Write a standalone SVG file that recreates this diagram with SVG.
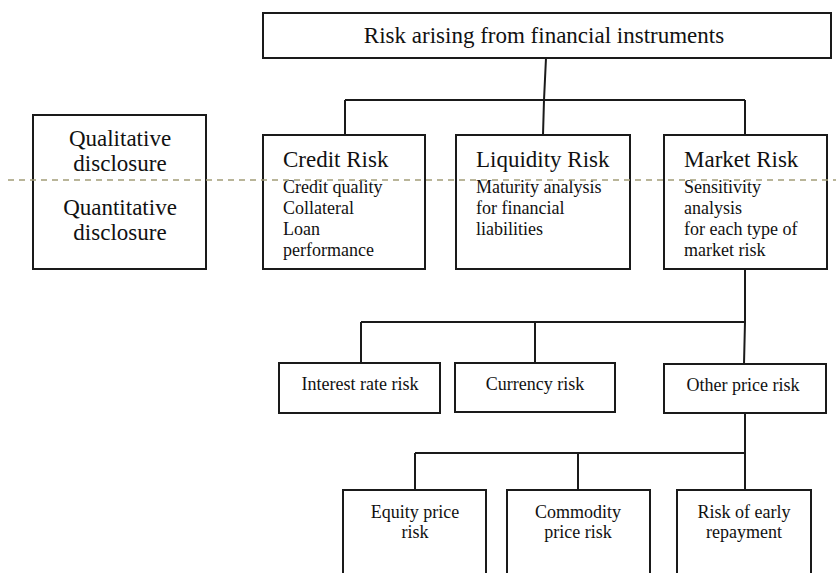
<svg xmlns="http://www.w3.org/2000/svg" width="836" height="573" viewBox="0 0 836 573">
<style>
.box{fill:#fff;stroke:#1a1a1a;stroke-width:2}
.ln{fill:none;stroke:#1a1a1a;stroke-width:2}
text{font-family:"Liberation Serif","Times New Roman",serif;fill:#111}
.big{font-size:23px}
.mid{font-size:18px}
.c{text-anchor:middle}
</style>
<rect width="836" height="573" fill="#fff"/>
<g id="connectors">
<path class="ln" d="M546 58 L544 100 M345 100 L745 100 M345 100 L345 135 M544 100 L543 135 M745 100 L745 135"/>
<path class="ln" d="M745 269 L745 322 M361 322 L745 322 M361 322 L361 363 M535 322 L535 363 M745 322 L744 364"/>
<path class="ln" d="M745 413 L745 453 M415 453 L745 453 M415 453 L415 490 M578 453 L578 490 M745 453 L745 490"/>
</g>
<g id="top"><rect class="box" x="263" y="13" width="568" height="45"/><text class="big c" x="544" y="43">Risk arising from financial instruments</text></g>
<g id="disclosure"><rect class="box" x="33" y="115" width="173" height="154"/>
<text class="big c" x="120" y="146">Qualitative</text><text class="big c" x="120" y="171">disclosure</text>
<text class="big c" x="120" y="215">Quantitative</text><text class="big c" x="120" y="240">disclosure</text></g>
<g id="credit"><rect class="box" x="263" y="135" width="162" height="134"/>
<text class="big" x="283" y="167">Credit Risk</text>
<text class="mid" x="283" y="193">Credit quality</text><text class="mid" x="283" y="214">Collateral</text><text class="mid" x="283" y="235">Loan</text><text class="mid" x="283" y="256">performance</text></g>
<g id="liquidity"><rect class="box" x="456" y="135" width="174" height="134"/>
<text class="big" x="476" y="167">Liquidity Risk</text>
<text class="mid" x="476" y="193">Maturity analysis</text><text class="mid" x="476" y="214">for financial</text><text class="mid" x="476" y="235">liabilities</text></g>
<g id="market"><rect class="box" x="664" y="135" width="163" height="134"/>
<text class="big" x="684" y="167">Market Risk</text>
<text class="mid" x="684" y="193">Sensitivity</text><text class="mid" x="684" y="214">analysis</text><text class="mid" x="684" y="235">for each type of</text><text class="mid" x="684" y="256">market risk</text></g>
<line x1="8" y1="180" x2="836" y2="180" stroke="#a39d78" stroke-width="1.5" stroke-dasharray="6,5"/>
<g id="interest"><rect class="box" x="279" y="363" width="161" height="50"/><text class="mid c" x="360" y="390">Interest rate risk</text></g>
<g id="currency"><rect class="box" x="455" y="363" width="160" height="49"/><text class="mid c" x="535" y="390">Currency risk</text></g>
<g id="other"><rect class="box" x="664" y="364" width="162" height="49"/><text class="mid c" x="743" y="391">Other price risk</text></g>
<g id="equity"><rect class="box" x="343" y="490" width="143" height="90"/><text class="mid c" x="415" y="518">Equity price</text><text class="mid c" x="415" y="538">risk</text></g>
<g id="commodity"><rect class="box" x="507" y="490" width="143" height="90"/><text class="mid c" x="578" y="518">Commodity</text><text class="mid c" x="578" y="538">price risk</text></g>
<g id="early"><rect class="box" x="677" y="490" width="134" height="90"/><text class="mid c" x="744" y="518">Risk of early</text><text class="mid c" x="744" y="538">repayment</text></g>
</svg>
